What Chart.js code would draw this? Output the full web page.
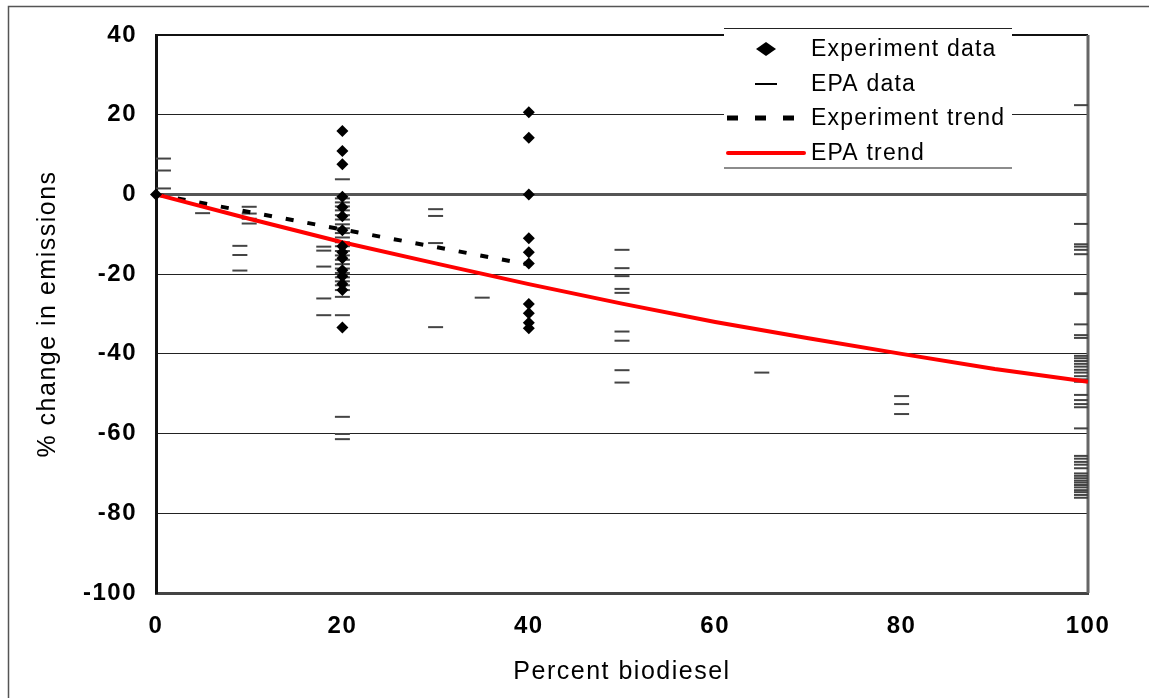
<!DOCTYPE html>
<html>
<head>
<meta charset="utf-8">
<script src="https://cdn.jsdelivr.net/npm/chart.js@4.4.1/dist/chart.umd.min.js"></script>
<style>
  html, body { margin: 0; padding: 0; background: #fff; }
  #wrap { width: 1149px; height: 698px; }
</style>
</head>
<body>
<div id="wrap"><canvas id="myChart" width="1149" height="698"></canvas></div>
<script>
// experiment measurements (diamonds), grouped by blend percent
const expPercents = [0, 20, 40];
const expChanges = [
  [0],
  [15.9, 10.9, 7.6, -0.6, -3.2, -5.5, -9, -13, -14.5, -16, -19, -20.5, -22.5, -24, -33.4],
  [20.6, 14.2, 0, -11, -14.5, -17.3, -27.5, -29.8, -32.2, -33.6]
];

// EPA measurements (dashes)
const epaPercents = [0.8, 5, 9, 10, 18, 20, 30, 35, 50, 65, 80, 99.3];
const epaChanges = [
  [9, 6, 1.5],
  [-4.7],
  [-12.9, -15.2, -19.1],
  [-3.1, -4.8, -6.1, -7.3],
  [-13.1, -14.1, -18.1, -26.1, -30.3],
  [3.8, -1, -2, -3, -4, -5.2, -6.3, -7.5, -8.5, -9.7, -10.8, -12, -13, -14.2, -15.3, -16.4,
   -17.5, -18.6, -19.7, -20.8, -21.8, -22.8, -24, -25.7, -30.3, -55.8, -60.1, -61.4],
  [-3.7, -5.4, -12.2, -33.3],
  [-25.9],
  [-13.9, -18.5, -20.5, -23.7, -24.7, -34.4, -36.7, -44.1, -47.2],
  [-44.7],
  [-50.6, -52.6, -55.1],
  [22.4, -7.4, -12.5, -13.1, -13.9, -15, -24.8, -25, -32.6, -35.3, -36, -40.5, -41.1, -41.8,
   -42.5, -43.2, -44, -44.7, -45.6, -46.4, -47, -50.3, -51.6, -52.6, -53.4, -58.7, -65.6,
   -66.3, -67.1, -67.8, -68.7, -70, -70.6, -71.2, -71.8, -72.3, -72.9, -73.5, -74.2, -74.7,
   -75.4, -76.1]
];

// trend lines
const expTrendPercents = [0, 20, 40];
const expTrend = [0, -8.8, -17.6];
const epaTrendPercents = [0, 10, 20, 30, 40, 50, 60, 70, 80, 90, 100];
const epaTrend = [0, -6.1, -12, -17.3, -22.5, -27.4, -32, -36.1, -40, -43.8, -47];

const yTicks = [40, 20, 0, -20, -40, -60, -80, -100];
const xTicks = [0, 20, 40, 60, 80, 100];

function groupPoints(xs, groups) {
  const pts = [];
  xs.forEach((x, i) => groups[i].forEach(y => pts.push({ x: x, y: y })));
  return pts;
}
function linePoints(xs, ys) {
  return xs.map((x, i) => ({ x: x, y: ys[i] }));
}

const FONT = "'Liberation Sans', Arial, sans-serif";
const legendOrder = ['Experiment data', 'EPA data', 'Experiment trend', 'EPA trend'];

const framePlugin = {
  id: 'framePlugin',
  beforeDraw(chart) {
    chart.ctx.letterSpacing = '1.5px';
  },
  beforeDatasetsDraw(chart) {
    const { ctx, chartArea: a } = chart;
    ctx.save();
    // top edge
    ctx.strokeStyle = '#111';
    ctx.lineWidth = 2;
    ctx.beginPath();
    ctx.moveTo(a.left, a.top);
    ctx.lineTo(a.right, a.top);
    ctx.stroke();
    // right edge
    ctx.strokeStyle = '#666';
    ctx.lineWidth = 3;
    ctx.beginPath();
    ctx.moveTo(a.right, a.top);
    ctx.lineTo(a.right, a.bottom);
    ctx.stroke();
    ctx.restore();
  },
  afterDraw(chart) {
    const { ctx, chartArea: a } = chart;
    ctx.save();
    // outer picture border
    ctx.strokeStyle = '#555';
    ctx.lineWidth = 1.5;
    ctx.beginPath();
    ctx.moveTo(8.5, chart.height);
    ctx.lineTo(8.5, 6.5);
    ctx.lineTo(chart.width, 6.5);
    ctx.stroke();

    // legend box
    const x0 = a.right - 364, x1 = a.right - 76;
    const y0 = a.top - 7, y1 = a.top + 133;
    ctx.fillStyle = '#fff';
    ctx.fillRect(x0, y0, x1 - x0, y1 - y0);
    ctx.strokeStyle = '#222';
    ctx.lineWidth = 1;
    ctx.beginPath();
    ctx.moveTo(x0, y0 + 0.5); ctx.lineTo(x1, y0 + 0.5);
    ctx.stroke();
    ctx.strokeStyle = '#666';
    ctx.lineWidth = 1.5;
    ctx.beginPath();
    ctx.moveTo(x0, y1); ctx.lineTo(x1, y1);
    ctx.stroke();

    const rows = [14, 49, 83, 118];
    const byLabel = {};
    chart.data.datasets.forEach(d => { byLabel[d.label] = d; });
    legendOrder.forEach((label, i) => {
      const ds = byLabel[label];
      const cy = a.top + rows[i];
      ctx.save();
      if (label === 'Experiment data') {
        const cx = x0 + 42;
        ctx.fillStyle = ds.backgroundColor;
        ctx.beginPath();
        ctx.moveTo(cx - 10, cy);
        ctx.lineTo(cx, cy - 7);
        ctx.lineTo(cx + 10, cy);
        ctx.lineTo(cx, cy + 7);
        ctx.closePath();
        ctx.fill();
      } else if (label === 'EPA data') {
        ctx.strokeStyle = '#000';
        ctx.lineWidth = 2;
        ctx.beginPath();
        ctx.moveTo(x0 + 31, cy); ctx.lineTo(x0 + 53, cy);
        ctx.stroke();
      } else if (label === 'Experiment trend') {
        ctx.strokeStyle = ds.borderColor;
        ctx.lineWidth = 5;
        ctx.setLineDash([11, 17]);
        ctx.beginPath();
        ctx.moveTo(x0 + 3, cy); ctx.lineTo(x0 + 74, cy);
        ctx.stroke();
      } else {
        ctx.strokeStyle = ds.borderColor;
        ctx.lineWidth = 4;
        ctx.lineCap = 'round';
        ctx.beginPath();
        ctx.moveTo(x0 + 4, cy); ctx.lineTo(x0 + 80, cy);
        ctx.stroke();
      }
      ctx.restore();
      ctx.fillStyle = '#000';
      ctx.font = '23px ' + FONT;
      ctx.letterSpacing = '1.2px';
      ctx.textAlign = 'left';
      ctx.textBaseline = 'middle';
      ctx.fillText(label, x0 + 87, cy + 1);
    });
    ctx.restore();
  }
};

new Chart(document.getElementById('myChart'), {
  type: 'scatter',
  data: {
    datasets: [
      {
        label: 'Experiment data',
        data: groupPoints(expPercents, expChanges),
        pointStyle: 'rectRot',
        pointRadius: 6,
        backgroundColor: '#000',
        borderColor: '#000',
        borderWidth: 0,
        clip: false
      },
      {
        label: 'EPA trend',
        data: linePoints(epaTrendPercents, epaTrend),
        showLine: true,
        borderColor: '#ff0000',
        borderWidth: 4,
        pointRadius: 0,
        clip: false
      },
      {
        label: 'Experiment trend',
        data: linePoints(expTrendPercents, expTrend),
        showLine: true,
        borderColor: '#000',
        borderWidth: 4,
        borderDash: [8, 14],
        pointRadius: 0
      },
      {
        label: 'EPA data',
        data: groupPoints(epaPercents, epaChanges),
        pointStyle: 'line',
        pointRadius: 7.5,
        borderColor: '#444',
        borderWidth: 2
      }
    ]
  },
  options: {
    responsive: false,
    animation: false,
    events: [],
    layout: { padding: { left: 0, top: 35, right: 61, bottom: 0 } },
    plugins: { legend: { display: false }, tooltip: { enabled: false } },
    scales: {
      x: {
        type: 'linear',
        min: 0,
        max: 100,
        afterFit(s) { s.height = 105; },
        afterBuildTicks(s) { s.ticks = xTicks.map(v => ({ value: v })); },
        grid: { display: false, drawTicks: false },
        border: { display: true, color: '#444', width: 3 },
        ticks: {
          padding: 19,
          color: '#000',
          font: { family: FONT, size: 24, weight: 'bold' }
        },
        title: {
          display: true,
          text: 'Percent biodiesel',
          color: '#000',
          font: { family: FONT, size: 25 },
          padding: { top: 0, bottom: 11 }
        }
      },
      y: {
        type: 'linear',
        min: -100,
        max: 40,
        afterFit(s) { s.width = 156; },
        afterBuildTicks(s) { s.ticks = yTicks.map(v => ({ value: v })); },
        grid: {
          drawTicks: false,
          color: ctx => ctx.tick && ctx.tick.value === 0 ? '#555' : '#222',
          lineWidth: ctx => ctx.tick && ctx.tick.value === 0 ? 3 : 1
        },
        border: { display: true, color: '#111', width: 3 },
        ticks: {
          padding: 19,
          color: '#000',
          font: { family: FONT, size: 24, weight: 'bold' }
        },
        title: {
          display: true,
          text: '% change in emissions',
          color: '#000',
          font: { family: FONT, size: 25 },
          padding: { top: 33, bottom: 0 }
        }
      }
    }
  },
  plugins: [framePlugin]
});
</script>
</body>
</html>
